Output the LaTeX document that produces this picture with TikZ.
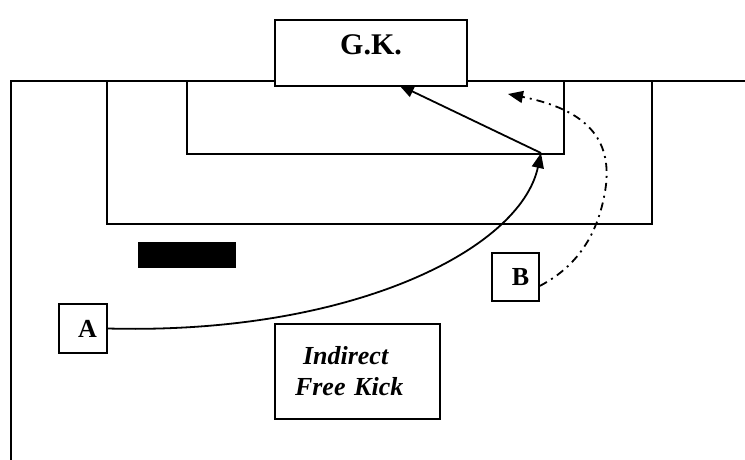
\documentclass[tikz,border=0pt]{standalone}
\usepackage{fontspec}
\setmainfont{Liberation Serif}
\usetikzlibrary{arrows.meta}
\begin{document}
\begin{tikzpicture}[x=1pt,y=-1pt,
  line/.style={line width=1.8pt},
  box/.style={draw,line width=1.8pt,fill=white,inner sep=0pt},
  tip/.style={-{Triangle[length=15pt,width=12pt]}},
  dashdot/.style={dash pattern=on 8pt off 5pt on 2pt off 5pt}]
\useasboundingbox (0,0) rectangle (745,460);
% field
\draw[line] (11,460) -- (11,81) -- (745,81);
% penalty area and goal area
\draw[line] (107,81) -- (107,224) -- (652,224) -- (652,81);
\draw[line] (187,81) -- (187,154) -- (564,154) -- (564,81);
% goalkeeper
\node[box,minimum width=192pt,minimum height=66pt,text height=20pt,text depth=16pt,font=\bfseries\fontsize{30}{30}\selectfont] (GK) at (371,53) {G.K.};
% wall
\node[fill=black,minimum width=98pt,minimum height=26pt,inner sep=0pt] (wall) at (187,254.5) {};
% players
\node[box,minimum width=48pt,minimum height=49pt,font=\bfseries\fontsize{26}{26}\selectfont] (A) at (83,328.5) {\hspace*{9pt}A};
\node[box,minimum width=47pt,minimum height=48pt,font=\bfseries\fontsize{26}{26}\selectfont] (B) at (515.5,277) {\hspace*{10pt}B};
% indirect free kick
\node[box,minimum width=165pt,minimum height=95pt,text width=125pt,align=left,font=\bfseries\itshape\fontsize{26}{31}\selectfont] (IFK) at (357.5,371.5) {\hspace*{8pt}Indirect\\Free Kick};
% connectors
\coordinate (tgt) at (541,153);
\coordinate (gkhit) at (399,85);
\coordinate (dend) at (508,94);
\draw[line,tip] (A.east) .. controls (350,335) and (520,250) .. (tgt);
\draw[line,tip] (tgt) -- (gkhit);
\draw[line,dashdot,tip] (B.-20) .. controls (580,265) and (600,230) .. (606,185)
   .. controls (611,140) and (588,110) .. (dend);
\end{tikzpicture}
\end{document}
